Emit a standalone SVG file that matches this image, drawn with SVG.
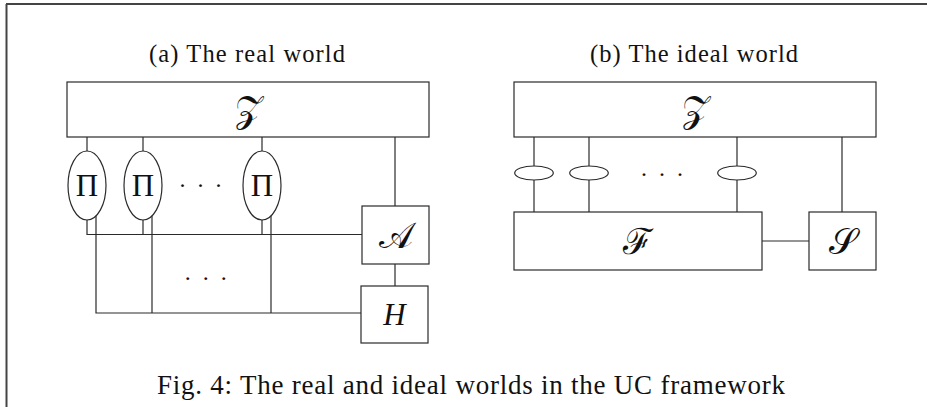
<svg xmlns="http://www.w3.org/2000/svg" width="927" height="407" viewBox="0 0 927 407">
  <style>
    .box { fill: #ffffff; stroke: #2a2a2a; stroke-width: 1.2; }
    .ell { fill: #ffffff; stroke: #2a2a2a; stroke-width: 1.2; }
    .wire { fill: none; stroke: #2a2a2a; stroke-width: 1.2; }
    .frame { fill: none; stroke: #444444; stroke-width: 2; }
    .title { font-family: "Liberation Serif", "DejaVu Serif", serif; font-size: 24.5px; fill: #111111; text-anchor: middle; }
    .cap { font-family: "Liberation Serif", "DejaVu Serif", serif; font-size: 27px; fill: #111111; text-anchor: middle; }
    .math { font-family: "DejaVu Serif", "Liberation Serif", serif; font-size: 36px; fill: #111111; text-anchor: middle; }
    .mathit { font-family: "Liberation Serif", "DejaVu Serif", serif; font-style: italic; font-size: 31px; fill: #111111; text-anchor: middle; }
    .pi { font-family: "Liberation Serif", "DejaVu Serif", serif; font-size: 31px; fill: #111111; text-anchor: middle; }
    .dots { font-family: "Liberation Serif", "DejaVu Serif", serif; font-size: 24px; fill: #111111; text-anchor: middle; }
  </style>

  <g id="frame">
    <line class="frame" x1="6" y1="4" x2="927" y2="4"/>
    <line class="frame" x1="6.5" y1="4" x2="6.5" y2="407"/>
  </g>

  <g id="titles">
    <text class="title" x="247" y="62" textLength="196">(a) The real world</text>
    <text class="title" x="694" y="62" textLength="208">(b) The ideal world</text>
  </g>

  <g id="connectors">
    <!-- real world -->
    <line class="wire" x1="87" y1="137" x2="87" y2="151"/>
    <line class="wire" x1="143" y1="137" x2="143" y2="151"/>
    <line class="wire" x1="262" y1="137" x2="262" y2="151"/>
    <line class="wire" x1="395" y1="137" x2="395" y2="206"/>
    <polyline class="wire" points="87,219 87,234.5 362,234.5"/>
    <line class="wire" x1="143" y1="219" x2="143" y2="234.5"/>
    <line class="wire" x1="262" y1="219" x2="262" y2="234.5"/>
    <polyline class="wire" points="96,215 96,313 361,313"/>
    <line class="wire" x1="152" y1="215" x2="152" y2="313"/>
    <line class="wire" x1="271" y1="215" x2="271" y2="313"/>
    <line class="wire" x1="395" y1="264" x2="395" y2="286"/>
    <!-- ideal world -->
    <line class="wire" x1="534" y1="137" x2="534" y2="212"/>
    <line class="wire" x1="589" y1="137" x2="589" y2="212"/>
    <line class="wire" x1="737" y1="137" x2="737" y2="212"/>
    <line class="wire" x1="842" y1="137" x2="842" y2="212"/>
    <line class="wire" x1="762" y1="241" x2="809" y2="241"/>
  </g>

  <g id="Z-real">
    <rect class="box" x="67" y="82" width="362" height="55"/>
    <text class="math" x="248" y="122">𝒵</text>
  </g>
  <g id="Pi-1">
    <ellipse class="ell" cx="87" cy="185.5" rx="19" ry="34.5"/>
    <text class="pi" x="87" y="196">Π</text>
  </g>
  <g id="Pi-2">
    <ellipse class="ell" cx="143" cy="185.5" rx="19" ry="34.5"/>
    <text class="pi" x="143" y="196">Π</text>
  </g>
  <g id="Pi-n">
    <ellipse class="ell" cx="262" cy="185.5" rx="19" ry="34.5"/>
    <text class="pi" x="262" y="196">Π</text>
  </g>
  <g id="dots-real">
    <text class="dots" x="201.5" y="193" letter-spacing="2">· · ·</text>
    <text class="dots" x="206.7" y="286" letter-spacing="2">· · ·</text>
  </g>
  <g id="A">
    <rect class="box" x="362" y="206" width="67" height="58"/>
    <text class="math" x="395.5" y="248">𝒜</text>
  </g>
  <g id="H">
    <rect class="box" x="361" y="286" width="67" height="57"/>
    <text class="mathit" x="394.5" y="325">H</text>
  </g>

  <g id="Z-ideal">
    <rect class="box" x="514" y="82" width="362" height="55"/>
    <text class="math" x="695" y="122">𝒵</text>
  </g>
  <g id="dummy-1">
    <ellipse class="ell" cx="534" cy="173" rx="19.3" ry="7"/>
  </g>
  <g id="dummy-2">
    <ellipse class="ell" cx="589" cy="173" rx="19.3" ry="7"/>
  </g>
  <g id="dummy-n">
    <ellipse class="ell" cx="737" cy="173" rx="19.3" ry="7"/>
  </g>
  <g id="dots-ideal">
    <text class="dots" x="663" y="182" letter-spacing="2">· · ·</text>
  </g>
  <g id="F">
    <rect class="box" x="514" y="212" width="248" height="58"/>
    <text class="math" x="638" y="254">ℱ</text>
  </g>
  <g id="S">
    <rect class="box" x="809" y="212" width="67" height="58"/>
    <text class="math" x="842.5" y="254">𝒮</text>
  </g>

  <g id="caption">
    <text class="cap" x="471" y="394" textLength="628">Fig. 4: The real and ideal worlds in the UC framework</text>
  </g>
</svg>
